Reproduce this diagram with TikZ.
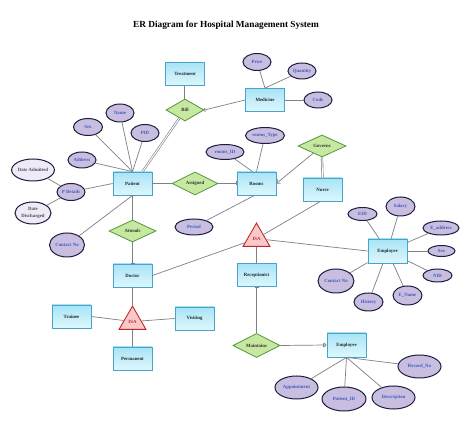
\documentclass[tikz,border=0pt]{standalone}
\usepackage{fontspec}
\setmainfont{Liberation Serif}
\usetikzlibrary{shapes.geometric,arrows.meta}
\definecolor{entb}{RGB}{74,163,200}
\definecolor{entt}{RGB}{168,228,246}
\definecolor{entbot}{RGB}{222,247,253}
\definecolor{relb}{RGB}{84,150,58}
\definecolor{relf}{RGB}{198,232,160}
\definecolor{attb}{RGB}{28,28,64}
\definecolor{attf}{RGB}{201,189,224}
\definecolor{attt}{RGB}{58,95,192}
\definecolor{lattf}{RGB}{239,234,245}
\definecolor{isab}{RGB}{192,40,45}
\definecolor{isaf}{RGB}{249,201,201}
\definecolor{lnc}{RGB}{127,127,133}
\begin{document}
\begin{tikzpicture}[x=1pt,y=-1pt,
  lbl/.style={font=\fontsize{4.8}{5.6}\selectfont\bfseries},
  ent/.style={rectangle, draw=entb, line width=0.8pt, top color=entt, bottom color=entbot,
    minimum width=39pt, minimum height=23pt, inner sep=0pt, lbl, text=black!85},
  rel/.style={diamond, draw=relb, line width=0.8pt, fill=relf, minimum width=47pt,
    minimum height=23pt, inner sep=0pt, lbl, text=black!80},
  attr/.style={ellipse, draw=attb, line width=1pt, fill=attf, inner sep=0pt, lbl, text=attt},
  lattr/.style={attr, fill=lattf, text=black!70, align=center},
  isa/.style={regular polygon, regular polygon sides=3, draw=isab, fill=isaf, line width=0.9pt,
    minimum size=31pt, inner sep=0pt, lbl, text=isab},
  ln/.style={draw=lnc, line width=0.7pt},
  dbl/.style={draw=lnc, line width=0.6pt, double=white, double distance=1pt},
  bar/.style={ln, -{Bar[width=4pt,line width=0.7pt]}},
  rbar/.style={ln, {Bar[width=4pt,line width=0.7pt]}-},
]
\useasboundingbox (0,0) rectangle (474,427);
\fill[white] (0,0) rectangle (474,427);

\node[font=\fontsize{9.3}{11}\selectfont\bfseries] (title) at (226,25) {ER Diagram for Hospital Management System};

% entities
\node[ent] (treat) at (185,74) {Treatment};
\node[ent] (med) at (265,100) {Medicine};
\node[ent] (patient) at (132.5,183.5) {Patient};
\node[ent] (rooms) at (256.5,183.5) {Rooms};
\node[ent] (nurse) at (322.5,189.5) {Nurse};
\node[ent] (doctor) at (132.5,275.5) {Doctor};
\node[ent] (recep) at (256.5,275) {Receptionist};
\node[ent, minimum height=24pt] (emp1) at (387.5,251) {Employee};
\node[ent] (trainee) at (71.5,316.5) {Trainee};
\node[ent] (visiting) at (194.5,318.5) {Visiting};
\node[ent] (perm) at (132.5,358.5) {Permanent};
\node[ent, minimum height=24pt] (emp2) at (346.5,345) {Employee};

% relationships
\node[rel, minimum width=38pt, minimum height=22pt] (bill) at (185,110) {Bill};
\node[rel, minimum width=46pt] (assigned) at (195,183.5) {Assigned};
\node[rel, minimum width=48pt, minimum height=22pt] (governs) at (322,146) {Governs};
\node[rel, minimum height=22pt] (attends) at (132.5,231) {Attends};
\node[rel] (maint) at (256.5,345.5) {Maintains};

% ISA
\node[isa] (isa1) at (256.5,238.6) {\raisebox{-3.5pt}{ISA}};
\node[isa] (isa2) at (132.5,321.6) {\raisebox{-3.5pt}{ISA}};

% attributes
\node[attr, minimum width=28pt, minimum height=17pt] (price) at (257,62) {Price};
\node[attr, minimum width=28pt, minimum height=16pt] (qty) at (302,71) {Quantity};
\node[attr, minimum width=28pt, minimum height=16pt] (code) at (318,100) {Code};
\node[attr, minimum width=28pt, minimum height=18pt] (name) at (120,113) {Name};
\node[attr, minimum width=29pt, minimum height=17pt] (sex) at (88,127) {Sex};
\node[attr, minimum width=28pt, minimum height=17pt] (pid) at (145,133) {PID};
\node[attr, minimum width=28pt, minimum height=16pt] (address) at (82,160) {Address};
\node[lattr, minimum width=35pt, minimum height=22pt] (dadm) at (33,170) {Date Admitted};
\node[attr, minimum width=28pt, minimum height=17pt] (pdet) at (71,192) {P Details};
\node[lattr, minimum width=36pt, minimum height=22pt] (ddis) at (33,213) {Date\\[1pt]Discharged};
\node[attr, minimum width=35pt, minimum height=24pt] (cont1) at (67,245) {Contact No};
\node[attr, minimum width=38pt, minimum height=16pt] (period) at (194,227) {Period};
\node[attr, minimum width=38pt, minimum height=15pt] (rid) at (225,152) {rooms\_ID};
\node[attr, minimum width=39pt, minimum height=16pt] (rtype) at (265,135.5) {rooms\_Type};
\node[attr, minimum width=29pt, minimum height=13pt] (eid) at (362.5,214) {EID};
\node[attr, minimum width=29pt, minimum height=19pt] (salary) at (400.5,206.5) {Salary};
\node[attr, minimum width=36pt, minimum height=14pt] (eaddr) at (441,228) {E\_address};
\node[attr, minimum width=27pt, minimum height=11pt] (sex2) at (441.5,251) {Sex};
\node[attr, minimum width=29pt, minimum height=13pt] (nid) at (437.5,275.5) {NID};
\node[attr, minimum width=36pt, minimum height=24pt] (cont2) at (336,281) {Contact No};
\node[attr, minimum width=29pt, minimum height=18pt] (history) at (368.5,302) {History};
\node[attr, minimum width=29pt, minimum height=19pt] (ename) at (407.5,295.5) {E\_Name};
\node[attr, minimum width=43pt, minimum height=23pt] (appt) at (296.5,387.5) {Appointment};
\node[attr, minimum width=44pt, minimum height=24pt] (patid) at (344,399) {Patient\_ID};
\node[attr, minimum width=43pt, minimum height=23pt] (desc) at (393.5,397.5) {Description};
\node[attr, minimum width=43pt, minimum height=23pt] (recno) at (419.5,366.5) {Record\_No};

% connectors
\begin{scope}[on background layer/.style={}]
\end{scope}
\draw[dbl] (treat.south) -- (bill.north);
\draw[dbl] ([xshift=10pt]patient.north) -- (bill);
\draw[rbar] (bill.east) -- (med.west);
\draw[ln] (price) -- (med.north);
\draw[ln] (qty) -- (med.north);
\draw[ln] (code) -- (med.east);
\draw[ln] (sex) -- (patient.north);
\draw[ln] (name) -- (patient.north);
\draw[ln] (pid) -- (patient.north);
\draw[ln] (address) -- (patient.north);
\draw[ln] (pdet) -- (patient.west);
\draw[ln] (dadm) -- (pdet);
\draw[ln] (ddis) -- (pdet);
\draw[ln] (cont1) -- (patient.south);
\draw[rbar] (patient.east) -- (assigned.west);
\draw[bar] (assigned.east) -- (rooms.west);
\draw[ln] (rid) -- ([xshift=-4pt]rooms.north);
\draw[ln] (rtype) -- (rooms.north);
\draw[ln] ([xshift=-2pt]rooms.south) -- (period);
\draw[ln, -{Straight Barb[length=3pt,width=5pt,line width=0.7pt]}] (governs) -- (rooms.east);
\draw[dbl] (governs.south) -- (nurse.north);
\draw[ln] ([xshift=-2pt]nurse.south) -- (isa1);
\draw[ln] (doctor.east) -- (isa1);
\draw[ln] (isa1) -- (emp1.west);
\draw[ln] (isa1.south) -- (recep.north);
\draw[rbar] (recep.south) -- (maint.north);
\draw[ln, -{Bar[width=4pt,line width=0.7pt] Straight Barb[length=2pt,width=4pt,line width=0.7pt]}] (maint.east) -- (emp2.west);
\draw[ln] (emp2.south) -- (appt);
\draw[ln] (emp2.south) -- (patid);
\draw[ln] (emp2.south) -- (desc);
\draw[ln] (emp2.south) -- (recno);
\draw[ln] (eid) -- (emp1);
\draw[ln] (salary) -- (emp1);
\draw[ln] (eaddr) -- (emp1);
\draw[ln] (sex2) -- (emp1);
\draw[ln] (nid) -- (emp1);
\draw[ln] (cont2) -- (emp1);
\draw[ln] (history) -- (emp1);
\draw[ln] (ename) -- (emp1);
\draw[rbar] (patient.south) -- (attends.north);
\draw[bar] (attends.south) -- (doctor.north);
\draw[ln] (doctor.south) -- (isa2);
\draw[ln] (isa2.south) -- (perm.north);
\draw[ln] (trainee.east) -- (isa2);
\draw[ln] (visiting.west) -- (isa2);
\end{tikzpicture}
\end{document}
